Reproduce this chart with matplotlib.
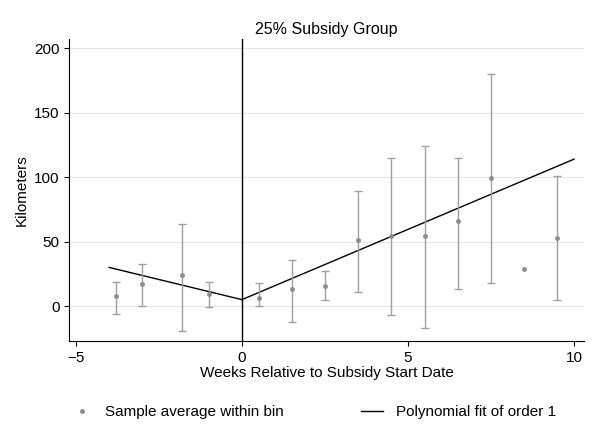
import matplotlib
matplotlib.use("Agg")
import matplotlib.pyplot as plt
from matplotlib.lines import Line2D
import numpy as np

plt.rcParams['font.family'] = ['Liberation Sans', 'DejaVu Sans']

bins = [-3.8, -3.0, -1.8, -1.0, 0.5, 1.5, 2.5, 3.5, 4.5, 5.5, 6.5, 7.5, 8.5, 9.5]
means = [7.7, 17, 24, 9, 6, 13, 15.5, 51, 54, 54, 66, 99, 29, 53]
upper = [19, 33, 64, 18.5, 18, 36, 27, 89, 115, 124, 115, 180, 29, 101]
lower = [-6, 0, -19, -1, 0, -12, 5, 11, -7, -17, 13, 18, 29, 5]
fit_left_x = [-4, 0]; fit_left_y = [30, 5]
fit_right_x = [0, 10]; fit_right_y = [5, 114]

fig = plt.figure(figsize=(6.02, 4.37), dpi=100)
ax = fig.add_axes([0.115, 0.22, 0.855, 0.69])
m = np.array(means); u = np.array(upper); l = np.array(lower)
has = u > l
ax.errorbar(np.array(bins)[has], m[has], yerr=[(m - l)[has], (u - m)[has]], fmt='none',
            ecolor='#a0a0a0', elinewidth=1, capsize=3, capthick=1, zorder=3)
ax.plot(bins, means, 'o', ms=2.5, color='#8c8c8c', zorder=4)
ax.plot(fit_left_x, fit_left_y, color='black', lw=1)
ax.plot(fit_right_x, fit_right_y, color='black', lw=1)
ax.axvline(0, color='black', lw=1)
ax.set_xlim(-5.2, 10.3)
ax.set_ylim(-27, 207)
ax.set_xticks([-5, 0, 5, 10])
ax.set_yticks([0, 50, 100, 150, 200])
ax.yaxis.grid(True, color='#e6e6e6', lw=0.8)
ax.set_axisbelow(True)
for s in ['top', 'right']:
    ax.spines[s].set_visible(False)
ax.tick_params(labelsize=11)
ax.set_xlabel('Weeks Relative to Subsidy Start Date', fontsize=11, labelpad=1)
ax.set_ylabel('Kilometers', fontsize=11)
ax.set_title('25% Subsidy Group', fontsize=11.5, pad=4)
handles = [Line2D([], [], ls='none', marker='o', ms=2.5, color='#8c8c8c'),
           Line2D([], [], color='black', lw=1)]
fig.legend(handles, ['Sample average within bin', 'Polynomial fit of order 1'],
           loc='lower center', ncol=2, frameon=False, fontsize=11,
           bbox_to_anchor=(0.52, 0.01), columnspacing=5, handlelength=1.5)
fig.savefig('out.png')
